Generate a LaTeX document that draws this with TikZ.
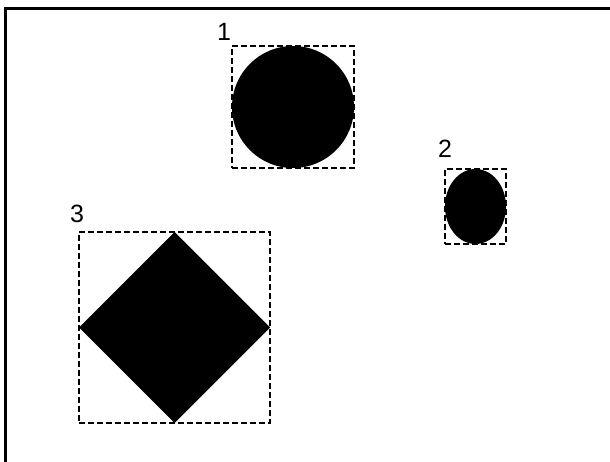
\documentclass[tikz,border=0pt]{standalone}
\usepackage{fontspec}
\setmainfont{Liberation Sans}
\usetikzlibrary{shapes.geometric, fit, positioning}

\begin{document}
\begin{tikzpicture}[
    x=1pt, y=-1pt,
    blob/.style={fill=black, draw=none, inner sep=0pt, outer sep=0pt},
    fitbox/.style={draw, dash pattern=on 6pt off 3pt, line width=1.3pt, inner sep=0pt},
    num/.style={font=\fontsize{25}{28}\selectfont, inner sep=0pt}
]
\useasboundingbox (0,0) rectangle (610,462);

% Frame
\draw[line width=3pt] (5.5,470) -- (5.5,8.5) -- (615,8.5);

% Shapes
\node[blob, circle, minimum size=122pt] (circ) at (293,107) {};
\node[blob, ellipse, minimum width=61pt, minimum height=75pt] (ell) at (475.5,206.5) {};
\node[blob, diamond, aspect=1, minimum width=191pt, minimum height=191pt] (dia) at (174.5,327.5) {};

% Boxes
\node[fitbox, fit=(circ)] (box1) {};
\node[fitbox, fit=(ell)] (box2) {};
\node[fitbox, fit=(dia)] (box3) {};

% Labels
\node[num] (lab1) at (224,32) {1};
\node[num] (lab2) at (445,149) {2};
\node[num] (lab3) at (77,214) {3};
\end{tikzpicture}
\end{document}
